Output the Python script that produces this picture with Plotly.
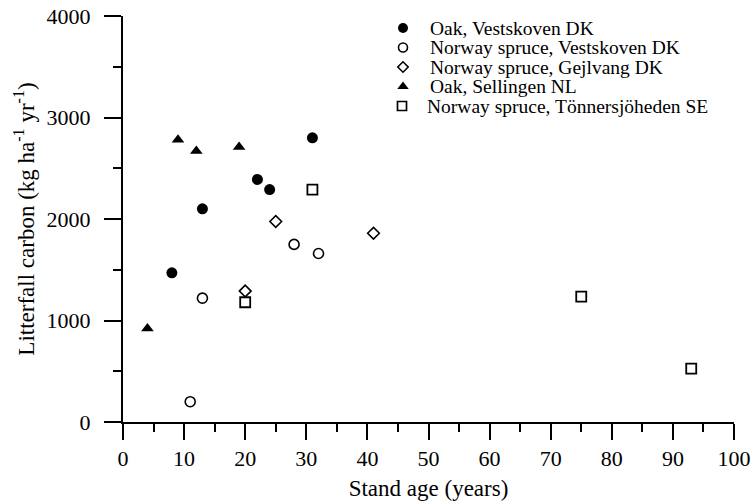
import plotly.graph_objects as go

# ---- data ----
oak_vest_age = [8, 13, 22, 24, 31]
oak_vest_c = [1470, 2100, 2390, 2290, 2800]
spruce_vest_age = [11, 13, 28, 32]
spruce_vest_c = [200, 1220, 1750, 1660]
spruce_gej_age = [20, 25, 41]
spruce_gej_c = [1290, 1975, 1860]
oak_sell_age = [4, 9, 12, 19]
oak_sell_c = [920, 2780, 2670, 2710]
spruce_ton_age = [20, 31, 75, 93]
spruce_ton_c = [1180, 2290, 1235, 525]

series_names = [
    "Oak, Vestskoven DK",
    "Norway spruce, Vestskoven DK",
    "Norway spruce, Gejlvang DK",
    "Oak, Sellingen NL",
    "Norway spruce, Tönnersjöheden SE",
]
x_ticks = list(range(0, 101, 10))
y_ticks = list(range(0, 4001, 1000))

FONT = "Liberation Serif"
styles = [
    dict(symbol="circle", size=11, color="black", line=dict(width=0, color="black")),
    dict(symbol="circle-open", size=10, color="black", line=dict(width=1.6, color="black")),
    dict(symbol="diamond-open", size=9, color="black", line=dict(width=1.6, color="black")),
    dict(symbol="triangle-up", size=11, color="black", line=dict(width=0, color="black")),
    dict(symbol="square-open", size=10, color="black", line=dict(width=1.8, color="black")),
]
xs = [oak_vest_age, spruce_vest_age, spruce_gej_age, oak_sell_age, spruce_ton_age]
ys = [oak_vest_c, spruce_vest_c, spruce_gej_c, oak_sell_c, spruce_ton_c]

fig = go.Figure()
for name, x, y, st in zip(series_names, xs, ys, styles):
    fig.add_trace(go.Scatter(x=x, y=y, mode="markers", name=name, marker=st,
                             showlegend=False, cliponaxis=False))

# ---- custom legend (overlay axis in pixel-like units) ----
leg_marker_x = [403, 403, 403, 403, 402]
leg_text_x = [428, 428, 428, 428, 425]
leg_y = [28, 47.5, 67, 86.5, 106]
leg_styles = [
    dict(symbol="circle", size=10, color="black"),
    dict(symbol="circle-open", size=9, color="black", line=dict(width=1.6, color="black")),
    dict(symbol="diamond-open", size=8, color="black", line=dict(width=1.6, color="black")),
    dict(symbol="triangle-up", size=10, color="black"),
    dict(symbol="square-open", size=9, color="black", line=dict(width=1.7, color="black")),
]
for mx, my, st in zip(leg_marker_x, leg_y, leg_styles):
    fig.add_trace(go.Scatter(x=[mx], y=[my], mode="markers", marker=st,
                             xaxis="x2", yaxis="y2", showlegend=False,
                             hoverinfo="skip", cliponaxis=False))
for tx, ty, name in zip(leg_text_x, leg_y, series_names):
    fig.add_annotation(x=tx, y=ty, xref="x2", yref="y2", text=name, showarrow=False,
                       xanchor="left", yanchor="middle",
                       font=dict(family=FONT, size=19.5, color="black"))

L, R, T, B = 123, 18, 16, 81
W, H = 752, 503
fig.update_layout(
    width=W, height=H,
    margin=dict(l=L, r=R, t=T, b=B, autoexpand=False),
    paper_bgcolor="white", plot_bgcolor="white",
    font=dict(family=FONT, size=20, color="black"),
    xaxis=dict(
        range=[0, 100], tickvals=x_ticks, ticktext=[str(v) for v in x_ticks],
        ticks="outside", ticklen=16, tickwidth=2, tickcolor="black",
        showline=True, linewidth=2, linecolor="black", mirror=False,
        showgrid=False, zeroline=False,
        minor=dict(ticks="outside", ticklen=8, tickwidth=2, tickcolor="black", dtick=5, tick0=0),
        tickfont=dict(family=FONT, size=22, color="black"),
        title=dict(text="Stand age (years)", font=dict(family=FONT, size=23, color="black"), standoff=9),
    ),
    yaxis=dict(
        range=[0, 4000], tickvals=y_ticks, ticktext=[str(v) for v in y_ticks],
        ticks="outside", ticklen=17, tickwidth=2, tickcolor="black",
        showline=True, linewidth=2, linecolor="black", mirror=False,
        showgrid=False, zeroline=False, ticklabelstandoff=9,
        minor=dict(ticks="outside", ticklen=8, tickwidth=2, tickcolor="black", dtick=500, tick0=0),
        tickfont=dict(family=FONT, size=22, color="black"),
        title=dict(text="Litterfall carbon (kg ha<sup>-1</sup> yr<sup>-1</sup>)",
                   font=dict(family=FONT, size=23, color="black"), standoff=6),
    ),
    xaxis2=dict(range=[L, W - R], overlaying="x", anchor="y2", visible=False),
    yaxis2=dict(range=[H - B, T], overlaying="y", anchor="x2", visible=False),
)

fig.write_html("out.html")
